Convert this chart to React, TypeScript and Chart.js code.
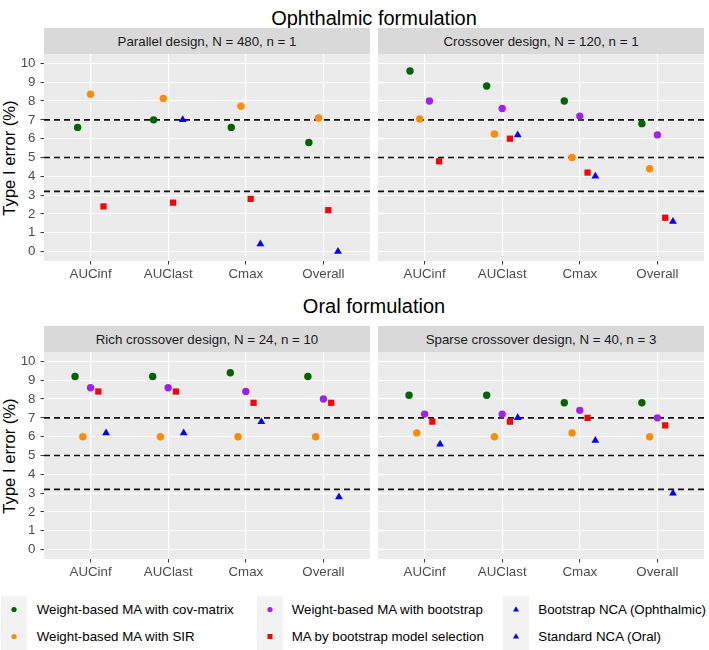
import React, { useEffect, useRef } from "react";
import { Chart, registerables } from "chart.js";

Chart.register(...registerables);

// ---------- data ----------
const categories = ["AUCinf", "AUClast", "Cmax", "Overall"];
const yTickValues = [0, 1, 2, 3, 4, 5, 6, 7, 8, 9, 10];
const refLines = [7, 5, 3.2];

// Ophthalmic – Parallel design, N = 480, n = 1
const parallelCov = [6.6, 7.0, 6.6, 5.8];
const parallelSir = [8.36, 8.14, 7.73, 7.1];
const parallelBoot: (number | null)[] = [null, null, null, null];
const parallelSel = [2.4, 2.6, 2.8, 2.2];
const parallelNca: (number | null)[] = [null, 7.0, 0.4, 0.0];

// Ophthalmic – Crossover design, N = 120, n = 1
const crossCov = [9.6, 8.8, 8.0, 6.8];
const crossSir = [7.05, 6.25, 5.0, 4.4];
const crossBoot = [8.0, 7.6, 7.2, 6.2];
const crossSel = [4.8, 6.0, 4.2, 1.8];
const crossNca: (number | null)[] = [null, 6.2, 4.0, 1.6];

// Oral – Rich crossover design, N = 24, n = 10
const richCov = [9.2, 9.2, 9.4, 9.2];
const richSir = [6.0, 6.0, 6.0, 6.0];
const richBoot = [8.6, 8.6, 8.4, 8.0];
const richSel = [8.4, 8.4, 7.8, 7.8];
const richNca = [6.2, 6.2, 6.8, 2.8];

// Oral – Sparse crossover design, N = 40, n = 3
const sparseCov = [8.2, 8.2, 7.8, 7.8];
const sparseSir = [6.2, 6.0, 6.2, 6.0];
const sparseBoot = [7.2, 7.2, 7.4, 7.0];
const sparseSel = [6.8, 6.8, 7.0, 6.6];
const sparseNca = [5.6, 7.0, 5.8, 3.0];

const seriesNames = [
  "Weight-based MA with cov-matrix",
  "Weight-based MA with SIR",
  "Weight-based MA with bootstrap",
  "MA by bootstrap model selection",
  "Bootstrap NCA (Ophthalmic)",
  "Standard NCA (Oral)",
];

// ---------- styles ----------
const FONT = "'Liberation Sans', Arial, Helvetica, sans-serif";
const seriesStyle = [
  { color: "#006400", shape: "circle", r: 3.7 },
  { color: "#FF8C00", shape: "circle", r: 3.7 },
  { color: "#A020F0", shape: "circle", r: 3.7 },
  { color: "#FF0000", shape: "rect", r: 4.4 },
  { color: "#0000FF", shape: "triangle", r: 4.5 },
];

const bgPlugin = {
  id: "panelBg",
  beforeDraw(chart: any) {
    const { ctx, chartArea: a } = chart;
    ctx.save();
    ctx.fillStyle = "#EBEBEB";
    ctx.fillRect(a.left, a.top, a.right - a.left, a.bottom - a.top);
    ctx.restore();
  },
};

const refLinePlugin = {
  id: "refLines",
  beforeDatasetsDraw(chart: any) {
    const { ctx, chartArea: a } = chart;
    const y = chart.scales.y;
    ctx.save();
    ctx.strokeStyle = "#111";
    ctx.lineWidth = 1.6;
    ctx.setLineDash([6, 4]);
    for (const v of refLines) {
      const py = y.getPixelForValue(v);
      ctx.beginPath();
      ctx.moveTo(a.left, py);
      ctx.lineTo(a.right, py);
      ctx.stroke();
    }
    ctx.restore();
  },
};

function dodgeX(series: (number | null)[][], cat: number, sIdx: number) {
  const present: number[] = [];
  series.forEach((s, i) => {
    if (s[cat] !== null && s[cat] !== undefined) present.push(i);
  });
  const n = present.length;
  const k = present.indexOf(sIdx);
  const w = 0.5 / n;
  return cat + 1 + (k - (n - 1) / 2) * w;
}

function zeroPad(s: any) {
  s.paddingTop = 0;
  s.paddingBottom = 0;
  s.paddingLeft = 0;
  s.paddingRight = 0;
}

type PanelProps = {
  series: (number | null)[][];
  showY: boolean;
  left: number;
  top: number;
  width: number;
  height: number;
};

function Panel({ series, showY, left, top, width, height }: PanelProps) {
  const ref = useRef<HTMLCanvasElement | null>(null);
  useEffect(() => {
    if (!ref.current) return;
    const datasets = series.map((s, i) => ({
      label: seriesNames[i],
      data: s
        .map((v, c) => (v === null ? null : { x: dodgeX(series, c, i), y: v }))
        .filter((p) => p !== null),
      pointStyle: seriesStyle[i].shape,
      pointRadius: seriesStyle[i].r,
      pointBackgroundColor: seriesStyle[i].color,
      pointBorderWidth: 0,
      pointBorderColor: seriesStyle[i].color,
      showLine: false,
    }));
    const chart = new Chart(ref.current, {
      type: "scatter",
      data: { datasets: datasets as any },
      options: {
        animation: false,
        responsive: false,
        maintainAspectRatio: false,
        events: [],
        layout: { padding: 0, autoPadding: false },
        plugins: { legend: { display: false }, tooltip: { enabled: false } },
        scales: {
          x: {
            type: "linear",
            min: 0.4,
            max: 4.6,
            afterBuildTicks: (s: any) => {
              s.ticks = categories.map((_, i) => ({ value: i + 1 }));
            },
            afterFit: (s: any) => {
              s.height = 26;
              zeroPad(s);
            },
            border: { display: false },
            grid: {
              color: "#FFFFFF",
              lineWidth: 1.1,
              tickColor: "#333333",
              tickLength: 3.5,
              tickWidth: 1,
            },
            ticks: {
              callback: (v: any) => categories[Math.round(v) - 1],
              color: "#4D4D4D",
              font: { family: FONT, size: 13.3 },
              padding: 2,
              maxRotation: 0,
              autoSkip: false,
            },
          },
          y: {
            type: "linear",
            min: -0.5,
            max: 10.5,
            afterBuildTicks: (s: any) => {
              s.ticks = yTickValues.map((v) => ({ value: v }));
            },
            afterFit: (s: any) => {
              s.width = showY ? 44 : 0;
              zeroPad(s);
            },
            border: { display: false },
            grid: {
              color: "#FFFFFF",
              lineWidth: 1.1,
              tickColor: "#333333",
              tickLength: 3.5,
              tickWidth: 1,
              drawTicks: showY,
            },
            ticks: {
              display: showY,
              color: "#4D4D4D",
              font: { family: FONT, size: 13.3 },
              padding: 5,
            },
          },
        },
      } as any,
      plugins: [bgPlugin, refLinePlugin],
    });
    return () => chart.destroy();
  }, []);
  return (
    <canvas
      ref={ref}
      width={width}
      height={height}
      style={{ position: "absolute", left, top, width, height }}
    />
  );
}

function Strip({ text, left, top }: { text: string; left: number; top: number }) {
  return (
    <div
      style={{
        position: "absolute",
        left,
        top,
        width: 326,
        height: 26,
        background: "#D9D9D9",
        color: "#1A1A1A",
        fontSize: 13.3,
        lineHeight: "27px",
        textAlign: "center",
        whiteSpace: "nowrap",
      }}
    >
      {text}
    </div>
  );
}

function YTitle({ cy }: { cy: number }) {
  return (
    <div
      style={{
        position: "absolute",
        left: 9.5 - 100,
        top: cy - 10,
        width: 200,
        height: 20,
        lineHeight: "20px",
        fontSize: 16.6,
        textAlign: "center",
        color: "#000",
        transform: "rotate(-90deg)",
        whiteSpace: "nowrap",
      }}
    >
      Type I error (%)
    </div>
  );
}

function Title({ text, top }: { text: string; top: number }) {
  return (
    <div
      style={{
        position: "absolute",
        left: 44,
        top,
        width: 660,
        height: 20,
        lineHeight: "20px",
        fontSize: 20,
        textAlign: "center",
        color: "#000",
        whiteSpace: "nowrap",
      }}
    >
      {text}
    </div>
  );
}

function LegendKey({ idx }: { idx: number }) {
  const st = seriesStyle[Math.min(idx, 4)];
  const c = st.color;
  return (
    <svg width={26} height={27} style={{ display: "block" }}>
      {st.shape === "circle" && <circle cx={13} cy={13.5} r={2.6} fill={c} />}
      {st.shape === "rect" && <rect x={10.5} y={11} width={5} height={5} fill={c} />}
      {st.shape === "triangle" && <polygon points="13,10.2 16,15.5 10,15.5" fill={c} />}
    </svg>
  );
}

function Legend() {
  const cols = [
    { keyLeft: 1, textLeft: 36.7, items: [0, 1] },
    { keyLeft: 257, textLeft: 291.7, items: [2, 3] },
    { keyLeft: 503, textLeft: 538.3, items: [4, 5] },
  ];
  const rowTops = [595.5, 622.5];
  return (
    <>
      {cols.map((col, ci) => (
        <React.Fragment key={ci}>
          <div
            style={{
              position: "absolute",
              left: col.keyLeft,
              top: rowTops[0],
              width: 26,
              height: 54,
              background: "#F2F2F2",
            }}
          />
          {col.items.map((it, ri) => (
            <React.Fragment key={it}>
              <div style={{ position: "absolute", left: col.keyLeft, top: rowTops[ri] }}>
                <LegendKey idx={it} />
              </div>
              <div
                style={{
                  position: "absolute",
                  left: col.textLeft,
                  top: rowTops[ri],
                  height: 27,
                  lineHeight: "27px",
                  fontSize: 13.3,
                  color: "#000",
                  whiteSpace: "nowrap",
                }}
              >
                {seriesNames[it]}
              </div>
            </React.Fragment>
          ))}
        </React.Fragment>
      ))}
    </>
  );
}

export default function App() {
  return (
    <div
      style={{
        position: "absolute",
        left: 0,
        top: 0,
        width: 709,
        height: 650,
        background: "#FFFFFF",
        fontFamily: FONT,
        overflow: "hidden",
      }}
    >
      <Title text="Ophthalmic formulation" top={8} />
      <Strip text="Parallel design, N = 480, n = 1" left={44} top={28} />
      <Strip text="Crossover design, N = 120, n = 1" left={378} top={28} />
      <YTitle cy={157.5} />
      <Panel
        series={[parallelCov, parallelSir, parallelBoot, parallelSel, parallelNca]}
        showY={true}
        left={0}
        top={54}
        width={370}
        height={233}
      />
      <Panel
        series={[crossCov, crossSir, crossBoot, crossSel, crossNca]}
        showY={false}
        left={378}
        top={54}
        width={326}
        height={233}
      />

      <Title text="Oral formulation" top={296} />
      <Strip text="Rich crossover design, N = 24, n = 10" left={44} top={326} />
      <Strip text="Sparse crossover design, N = 40, n = 3" left={378} top={326} />
      <YTitle cy={455.5} />
      <Panel
        series={[richCov, richSir, richBoot, richSel, richNca]}
        showY={true}
        left={0}
        top={352}
        width={370}
        height={233}
      />
      <Panel
        series={[sparseCov, sparseSir, sparseBoot, sparseSel, sparseNca]}
        showY={false}
        left={378}
        top={352}
        width={326}
        height={233}
      />

      <Legend />
    </div>
  );
}
